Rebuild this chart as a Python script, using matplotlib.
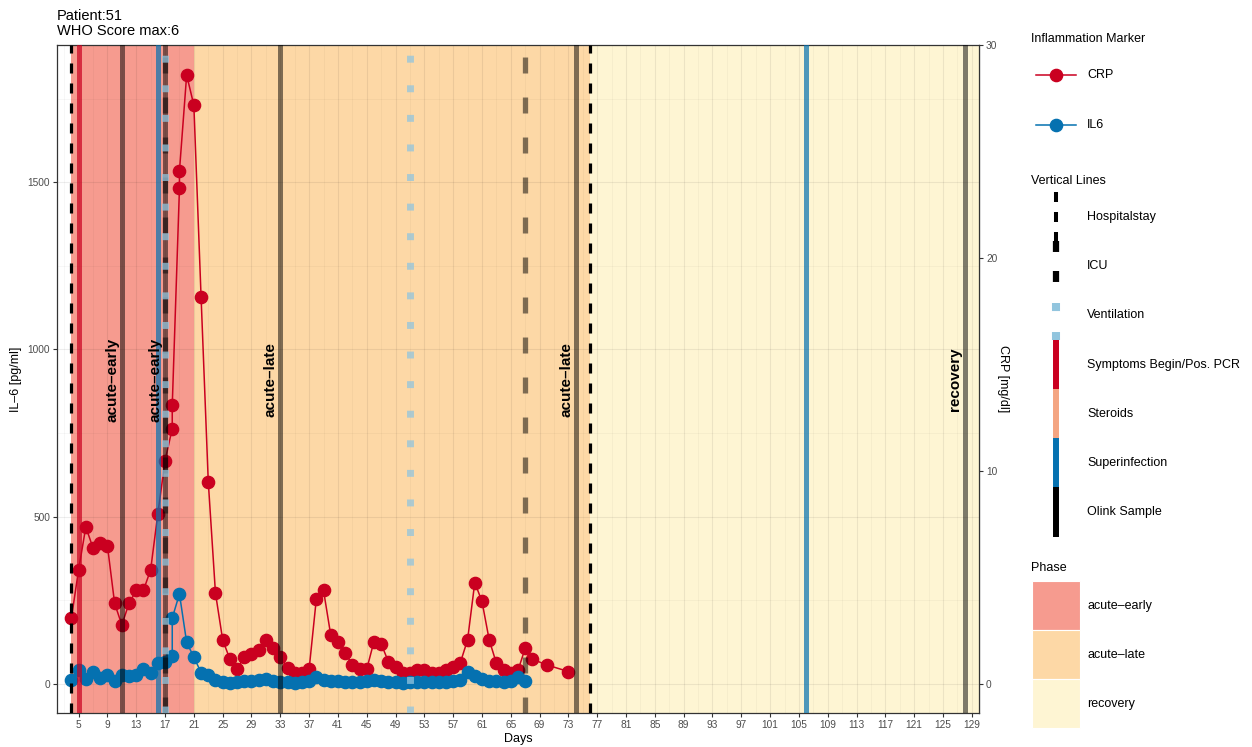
import matplotlib
matplotlib.use('Agg')
import matplotlib.pyplot as plt
from matplotlib.patches import Rectangle

plt.rcParams['font.family'] = ['Liberation Sans', 'DejaVu Sans']
plt.rcParams['lines.scale_dashes'] = False

# CRP [mg/dl] per day (two draws on day 18 and 19)
crp_days = [4, 5, 6, 7, 8, 9, 10, 11, 12, 13, 14, 15, 16, 17, 18, 18, 19, 19, 20, 21,
            22, 23, 24, 25, 26, 27, 28, 29, 30, 31, 32, 33, 34, 35, 36, 37, 38, 39, 40,
            41, 42, 43, 44, 45, 46, 47, 48, 49, 50, 51, 52, 53, 54, 55, 56, 57, 58, 59,
            60, 61, 62, 63, 64, 65, 66, 67, 68, 70, 73]
crp_vals = [3.09, 5.36, 7.37, 6.38, 6.61, 6.49, 3.78, 2.77, 3.78, 4.39, 4.39, 5.36, 7.99,
            10.48, 11.99, 13.08, 23.27, 24.09, 28.59, 27.17, 18.19, 9.50, 4.26, 2.07, 1.16,
            0.69, 1.28, 1.41, 1.60, 2.07, 1.68, 1.28, 0.74, 0.53, 0.53, 0.69, 3.98, 4.39,
            2.30, 1.99, 1.47, 0.89, 0.69, 0.69, 1.99, 1.88, 1.05, 0.79, 0.53, 0.53, 0.63,
            0.63, 0.53, 0.53, 0.63, 0.81, 1.00, 2.07, 4.76, 3.87, 2.07, 0.97, 0.66, 0.53,
            0.63, 1.68, 1.16, 0.89, 0.58]

# IL-6 [pg/ml] per day
il6_days = [4, 5, 6, 7, 8, 9, 10, 11, 12, 13, 14, 15, 16, 17, 18, 18, 19, 20, 21, 22, 23,
            24, 25, 26, 27, 28, 29, 30, 31, 32, 33, 34, 35, 36, 37, 38, 39, 40, 41, 42, 43,
            44, 45, 46, 47, 48, 49, 50, 51, 52, 53, 54, 55, 56, 57, 58, 59, 60, 61, 62, 63,
            64, 65, 66, 67]
il6_vals = [12, 42, 14, 37, 17, 27, 9, 27, 24, 27, 44, 34, 62, 65, 82, 197, 269, 124, 80,
            34, 27, 12, 5, 4, 5, 8, 10, 12, 14, 10, 6, 5, 3, 6, 10, 22, 12, 8, 10, 6, 5, 6,
            10, 12, 8, 6, 5, 4, 5, 6, 5, 6, 7, 6, 8, 12, 37, 24, 14, 10, 8, 7, 9, 20, 8]

# phases
phase_names = ['acute–early', 'acute–late', 'recovery']
phase_start = [4, 21, 76]
phase_end = [21, 76, 130]
phase_colors = ['#F69B8F', '#FDD8A6', '#FEF5D3']

# vertical line events
hospital_days = [4, 76]
icu_days = [17, 67]
vent_days = [17, 51]
symptom_days = [5]
superinf_days = [16, 106]
olink_days = [11, 17, 33, 74, 128]
olink_phase = ['acute–early', 'acute–early', 'acute–late', 'acute–late', 'recovery']

K = 1910 / 30.0  # IL-6 units per CRP unit
CRP_COL = '#CA0020'
IL6_COL = '#0571B0'
VENT_COL = '#92C5DE'
STER_COL = '#F4A582'

fig = plt.figure(figsize=(12.52, 7.47), dpi=100)
ax = fig.add_axes([57 / 1252, 1 - 713 / 747, (979 - 57) / 1252, (713 - 45) / 747])

for s, e, c in zip(phase_start, phase_end, phase_colors):
    ax.axvspan(s, e, color=c, lw=0, zorder=0.1)

ax.plot(crp_days, [v * K for v in crp_vals], '-o', color=CRP_COL, ms=8.8, lw=1.1, zorder=3)
ax.plot(il6_days, il6_vals, '-o', color=IL6_COL, ms=8.8, lw=1.1, zorder=4)

for d in olink_days:
    ax.axvline(d, color='black', alpha=0.5, lw=3.6, zorder=5)
for d in superinf_days:
    ax.axvline(d, color=IL6_COL, alpha=0.7, lw=3.6, zorder=5)
for d in symptom_days:
    ax.axvline(d, color=CRP_COL, alpha=0.7, lw=3.6, zorder=5)
for d in icu_days:
    ax.axvline(d, color='black', alpha=0.5, lw=3.8, dashes=(11.5, 17.3), zorder=6)
for d in vent_days:
    ax.axvline(d, color=VENT_COL, alpha=0.75, lw=5, dashes=(5, 16.3), zorder=6)
for d in hospital_days:
    ax.axvline(d, color='black', lw=2.3, dashes=(7.2, 7.2), zorder=6)

for d, lab in zip(olink_days, olink_phase):
    ax.text(d - 1.3, 910, lab, rotation=90, ha='center', va='center',
            fontsize=11, fontweight='bold', color='black', zorder=10)

ax.set_xlim(2, 130)
ax.set_ylim(-87, 1910)
ax.set_xticks(range(5, 130, 4))
ax.set_xticks(range(3, 131, 4), minor=True)
ax.set_yticks([0, 500, 1000, 1500])
ax.set_yticks([250, 750, 1250, 1750], minor=True)
ax.set_axisbelow(True)
ax.grid(which='major', color='black', alpha=0.07, lw=0.8)
ax.grid(which='minor', color='black', alpha=0.045, lw=0.5)
ax.tick_params(which='major', length=3, color='#333333', labelsize=7.3, labelcolor='#4D4D4D', pad=2)
ax.tick_params(which='minor', length=0)
for sp in ax.spines.values():
    sp.set_color('#333333')
    sp.set_linewidth(0.9)
ax.set_xlabel('Days', fontsize=9, labelpad=2)
ax.set_ylabel('IL–6 [pg/ml]', fontsize=9, labelpad=4)

sec = ax.secondary_yaxis('right', functions=(lambda v: v / K, lambda v: v * K))
sec.set_yticks([0, 10, 20, 30])
sec.tick_params(length=3, color='#333333', labelsize=7.3, labelcolor='#4D4D4D', pad=2)
sec.spines['right'].set_color('#333333')
sec.set_ylabel('CRP [mg/dl]', fontsize=9, rotation=-90, va='bottom', labelpad=0)

fig.text(57 / 1252, 1 - 9 / 747, 'Patient:51\nWHO Score max:6', ha='left', va='top',
         fontsize=10.5, linespacing=1.05)

# legend, drawn in pixel space
lg = fig.add_axes([0, 0, 1, 1])
lg.set_xlim(0, 1252)
lg.set_ylim(747, 0)
lg.axis('off')
kx = 1055.7
tx = 1087

lg.text(1031, 39, 'Inflammation Marker', va='center', fontsize=9)
for y, col, lab in [(75, CRP_COL, 'CRP'), (125, IL6_COL, 'IL6')]:
    lg.plot([1036, 1076], [y, y], color=col, lw=1.1)
    lg.plot([kx], [y], 'o', color=col, ms=8.8)
    lg.text(tx, y, lab, va='center', fontsize=9)

lg.text(1031, 181, 'Vertical Lines', va='center', fontsize=9)
lg.plot([kx, kx], [192, 242], color='black', lw=2.9, dashes=(7.2, 7.2))
lg.plot([kx, kx], [241, 291], color='black', lw=4.5, dashes=(7.9, 13.7))
lg.plot([kx, kx], [303, 340], color=VENT_COL, lw=5.8, dashes=(5.8, 15.1))
for (y0, y1), col in zip([(340, 389), (389, 438), (438, 487), (487, 537)],
                         [CRP_COL, STER_COL, IL6_COL, 'black']):
    lg.plot([kx, kx], [y0, y1], color=col, lw=4.3, solid_capstyle='butt')
vl_labels = ['Hospitalstay', 'ICU', 'Ventilation', 'Symptoms Begin/Pos. PCR',
             'Steroids', 'Superinfection', 'Olink Sample']
for i, lab in enumerate(vl_labels):
    lg.text(tx, 217 + 49.2 * i, lab, va='center', fontsize=9)

lg.text(1031, 568, 'Phase', va='center', fontsize=9)
for i, (lab, col) in enumerate(zip(phase_names, phase_colors)):
    y0 = 581 + 49 * i
    lg.add_patch(Rectangle((1032, y0), 48, 49, facecolor=col, edgecolor='white', lw=0.8))
    lg.text(tx, y0 + 24.5, lab, va='center', fontsize=9)

fig.savefig('out.png', dpi=100)
